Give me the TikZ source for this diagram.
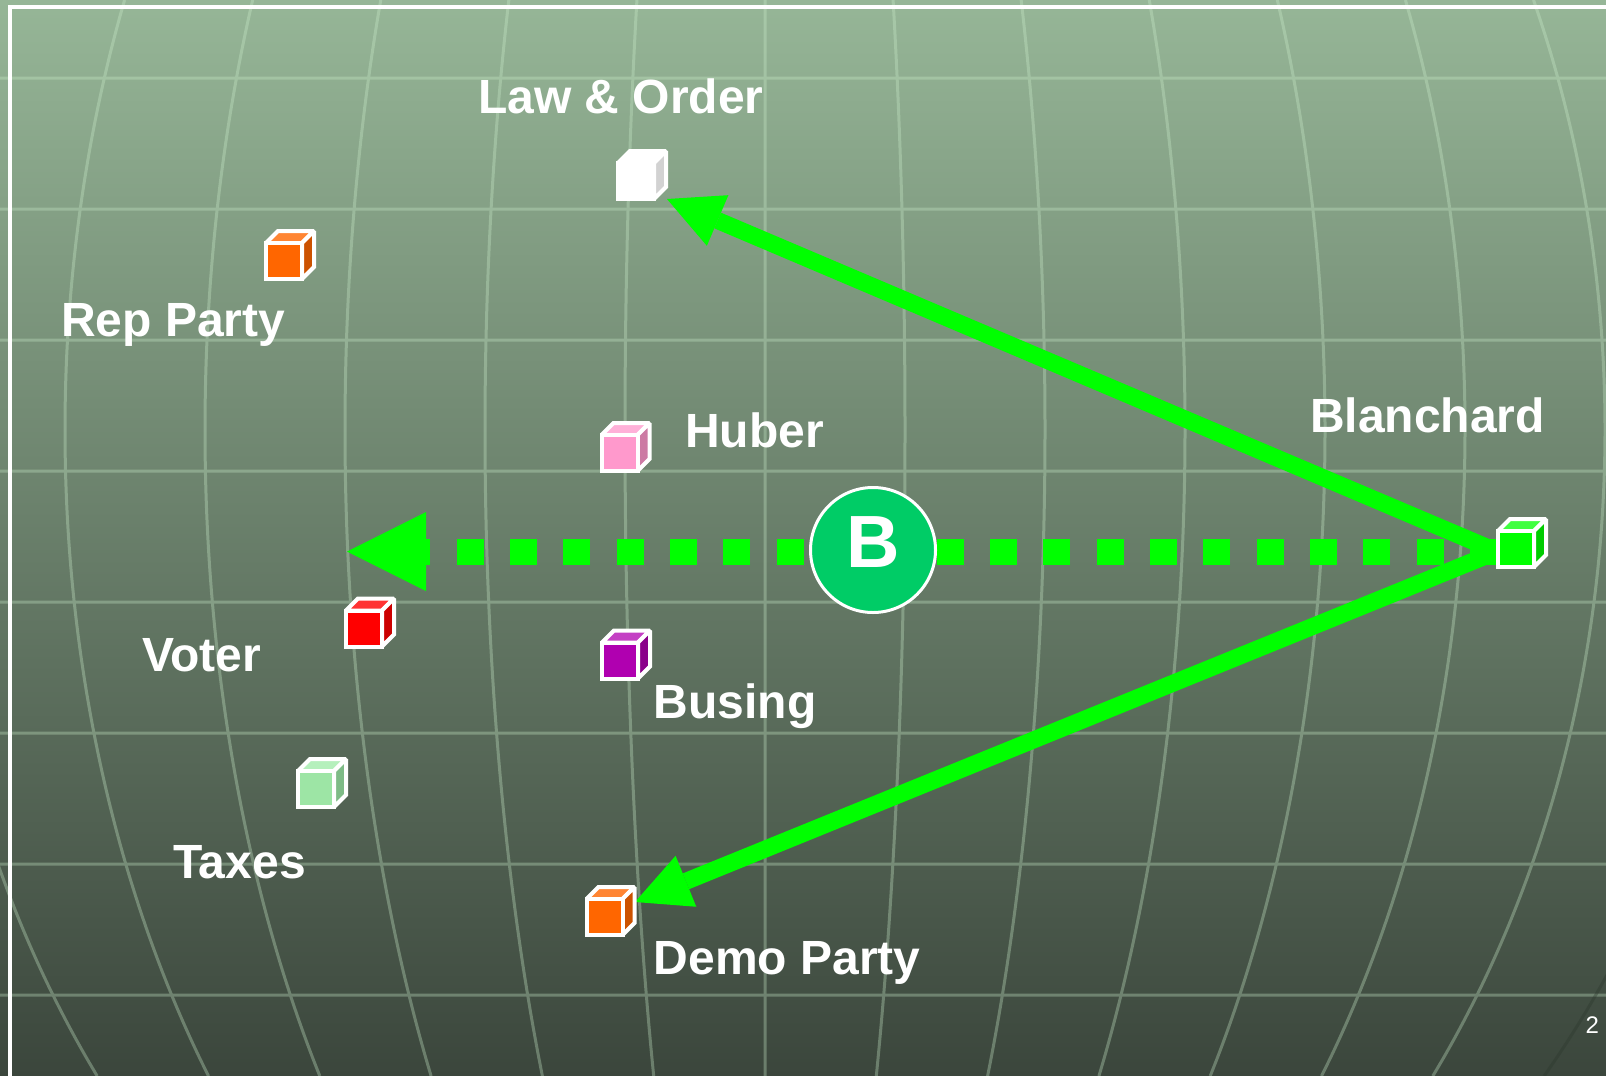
\documentclass[tikz,border=0pt]{standalone}
\usepackage{fontspec}
\setmainfont{Liberation Sans}
\usetikzlibrary{arrows.meta,calc}

\definecolor{bgtop}{HTML}{96B697}
\definecolor{bgmid}{HTML}{6D886D}
\definecolor{bgbot}{HTML}{3B463C}
\definecolor{gridc}{HTML}{CCEECC}
\definecolor{edgec}{HTML}{2A362B}
\definecolor{arrowgreen}{HTML}{00FF00}
\definecolor{bgreen}{HTML}{00CC66}
\definecolor{cgray}{HTML}{D2D2D2}
\definecolor{orfront}{HTML}{FF6600}
\definecolor{ortop}{HTML}{FF8533}
\definecolor{orside}{HTML}{CC5200}
\definecolor{pkfront}{HTML}{FF99CC}
\definecolor{pktop}{HTML}{FFB0D8}
\definecolor{pkside}{HTML}{CC7AA3}
\definecolor{rdfront}{HTML}{FF0000}
\definecolor{rdtop}{HTML}{FF3333}
\definecolor{rdside}{HTML}{CC0000}
\definecolor{pufront}{HTML}{B000B0}
\definecolor{putop}{HTML}{C440C4}
\definecolor{puside}{HTML}{8A008A}
\definecolor{lgfront}{HTML}{9DE5A5}
\definecolor{lgtop}{HTML}{B5F0BC}
\definecolor{lgside}{HTML}{7EBB86}
\definecolor{gnfront}{HTML}{00FF00}
\definecolor{gntop}{HTML}{40FF40}
\definecolor{gnside}{HTML}{00CC00}

\newcommand\cubefaces[4]{%
  \begin{scope}[shift={(#1.center)}]
    \filldraw[cubeedge, fill=#3] (-24,-12) -- (-12,-24) -- (24,-24) -- (12,-12) -- cycle;
    \filldraw[cubeedge, fill=#4] (12,-12) -- (24,-24) -- (24,12) -- (12,24) -- cycle;
    \filldraw[cubeedge, fill=#2] (-24,-12) rectangle (12,24);
  \end{scope}}

\begin{document}
\begin{tikzpicture}[x=1pt,y=-1pt,
  gridline/.style={draw=gridc, line width=3pt},
  edgeline/.style={draw=edgec, line width=3pt, opacity=0.35},
  cubeedge/.style={draw=white, line width=4pt, line join=miter, miter limit=2},
  cubenode/.style={minimum width=52pt, minimum height=52pt, inner sep=0pt},
  lbl/.style={text=white, font=\fontsize{48}{48}\selectfont\bfseries, inner sep=0pt, anchor=base west},
  pagenum/.style={text=white, font=\fontsize{24}{24}\selectfont, inner sep=0pt, anchor=base west},
  bcircle/.style={circle, fill=bgreen, draw=white, line width=3pt, minimum size=125pt, inner sep=0pt,
                  text=white, font=\fontsize{74}{74}\selectfont\bfseries},
  solidarrow/.style={draw=arrowgreen, line width=17pt,
                  -{Triangle[length=55pt,width=55pt,line width=0pt]}},
  dotarrow/.style={draw=arrowgreen, line width=26pt, dash pattern=on 27pt off 26.33pt,
                  -{Triangle[length=79pt,width=79pt,line width=0pt]}}
]
\useasboundingbox (0,0) rectangle (1606,1076);
\shade[top color=bgtop, middle color=bgmid, bottom color=bgbot] (0,0) rectangle (1606,1076);

% grid (globe meridians + horizontal lines)
\begin{scope}
  \clip (0,0) rectangle (1606,1076);
  \begin{scope}[transparency group, opacity=0.33]
    \foreach \yy in {78,209,...,995}
      \draw[gridline] (0,\yy) -- (1606,\yy);
    \foreach \d in {-840,-700,...,840}
      \draw[gridline] plot[domain=0:1076, samples=60, smooth, variable=\t]
        ({765+\d*sqrt(1-((\t-430)/1065)^2)}, \t);
  \end{scope}
  \draw[edgeline] plot[domain=0:1076, samples=60, smooth, variable=\t]
        ({765+980*sqrt(1-((\t-430)/1065)^2)}, \t);
\end{scope}

% frame
\draw[white, line width=4pt, line join=miter] (9.8,1076) -- (9.8,7.2) -- (1606,7.2);

% cube nodes
\node[cubenode] (law)   at (642,175)   {};
\node[cubenode] (rep)   at (290,255)   {};
\node[cubenode] (huber) at (625.5,447) {};
\node[cubenode] (voter) at (370,622.5) {};
\node[cubenode] (busing) at (626,654.5) {};
\node[cubenode] (taxes) at (322,783)   {};
\node[cubenode] (demo)  at (610.5,911) {};
\node[cubenode] (blan)  at (1522,543)  {};

\coordinate (bstart) at ($(blan.center)+(-25,8.5)$);
\coordinate (lawtip) at ($(law.center)+(25,24)$);
\coordinate (demotip) at ($(demo.center)+(24.5,-9)$);
\coordinate (dottip) at (347,551.5);

% dotted arrow and B
\draw[dotarrow] (bstart) -- (dottip);
\node[bcircle] (B) at (873,550) {\raisebox{15pt}{B}};

% solid arrows
\draw[solidarrow] (bstart) -- (lawtip);
\draw[solidarrow] (bstart) -- (demotip);

% cubes
\cubefaces{law}{white}{white}{cgray}
\cubefaces{rep}{orfront}{ortop}{orside}
\cubefaces{huber}{pkfront}{pktop}{pkside}
\cubefaces{voter}{rdfront}{rdtop}{rdside}
\cubefaces{busing}{pufront}{putop}{puside}
\cubefaces{taxes}{lgfront}{lgtop}{lgside}
\cubefaces{demo}{orfront}{ortop}{orside}
\cubefaces{blan}{gnfront}{gntop}{gnside}

% labels
\node[lbl] (tlaw)   at (478,113) {Law \& Order};
\node[lbl] (trep)   at (61,336)  {Rep Party};
\node[lbl] (thuber) at (685,447) {Huber};
\node[lbl] (tblan)  at (1310,432) {Blanchard};
\node[lbl] (tvoter) at (142,671)   {Voter};
\node[lbl] (ttaxes) at (173,878)   {Taxes};
\node[lbl] (tbusing) at (653.5,718) {Busing};
\node[lbl] (tdemo)  at (653.5,974) {Demo Party};
\node[pagenum] (pg) at (1585.5,1033) {2};
\end{tikzpicture}
\end{document}
